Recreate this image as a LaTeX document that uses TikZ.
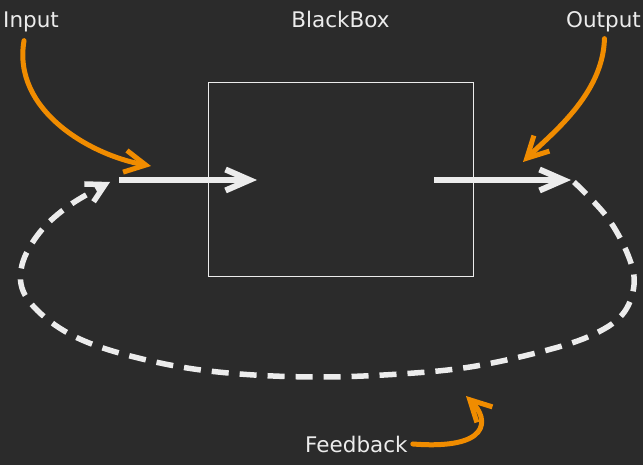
\documentclass[tikz,border=0pt]{standalone}
\usepackage{fontspec}
\setmainfont{DejaVu Sans}
\usetikzlibrary{arrows.meta}
\definecolor{bgc}{HTML}{2B2B2B}
\definecolor{inkc}{HTML}{ECECEC}
\definecolor{orc}{HTML}{F08C00}
\tikzset{
  lbl/.style={inner sep=0pt, text=inkc, font=\fontsize{21.5}{24}\selectfont},
  flow/.style={draw=inkc, line width=6pt, -{Straight Barb[length=24pt,width=21pt]}},
  hint/.style={draw=orc, line width=5pt, line cap=round, -{Straight Barb[length=21pt,width=22pt]}},
  loopline/.style={draw=inkc, line width=5.5pt, dash pattern=on 17pt off 11pt, -{Straight Barb[length=18pt,width=20pt]}},
  boxst/.style={draw=inkc, line width=1pt, minimum width=265pt, minimum height=194pt, inner sep=0pt}
}
\begin{document}
\begin{tikzpicture}[x=1pt,y=-1pt]
\fill[bgc] (0,0) rectangle (643,465);
\useasboundingbox (0,0) rectangle (643,465);
\node[boxst] (box) at (340.5,180) {};
\node[lbl, anchor=base west] (inp) at (3,28) {Input};
\node[lbl, anchor=base] (bb) at (340.5,28) {BlackBox};
\node[lbl, anchor=base east] (outp) at (641,28) {Output};
\node[lbl, anchor=base west] (fb) at (305,452) {Feedback};
\coordinate (a1s) at (119,180);
\coordinate (a1e) at (257,180);
\coordinate (a2s) at (434,180);
\coordinate (a2e) at (571,180);
\coordinate (ti) at (151,166);
\coordinate (to) at (523,162);
\coordinate (tf) at (466,396);
\coordinate (lend) at (110,182);
\draw[flow] (a1s) -- (a1e);
\draw[flow] (a2s) -- (a2e);
\draw[hint] ([shift={(-7,8)}]inp.south) .. controls (12,110) and (90,155) .. (ti);
\draw[hint] ([shift={(1,6)}]outp.south) .. controls (603,95) and (550,135) .. (to);
\draw[hint] ([xshift=5pt]fb.east) .. controls (490,450) and (490,420) .. (tf);
\draw[loopline] plot[smooth, tension=0.6] coordinates {(574,182) (607,217) (628,255) (634,285) (622,315) (590,336) (540,352) (470,367) (400,374) (320,377) (240,374) (170,365) (100,347) (55,325) (25,295) (22,265) (40,232) (70,205) (lend)};
\end{tikzpicture}
\end{document}
